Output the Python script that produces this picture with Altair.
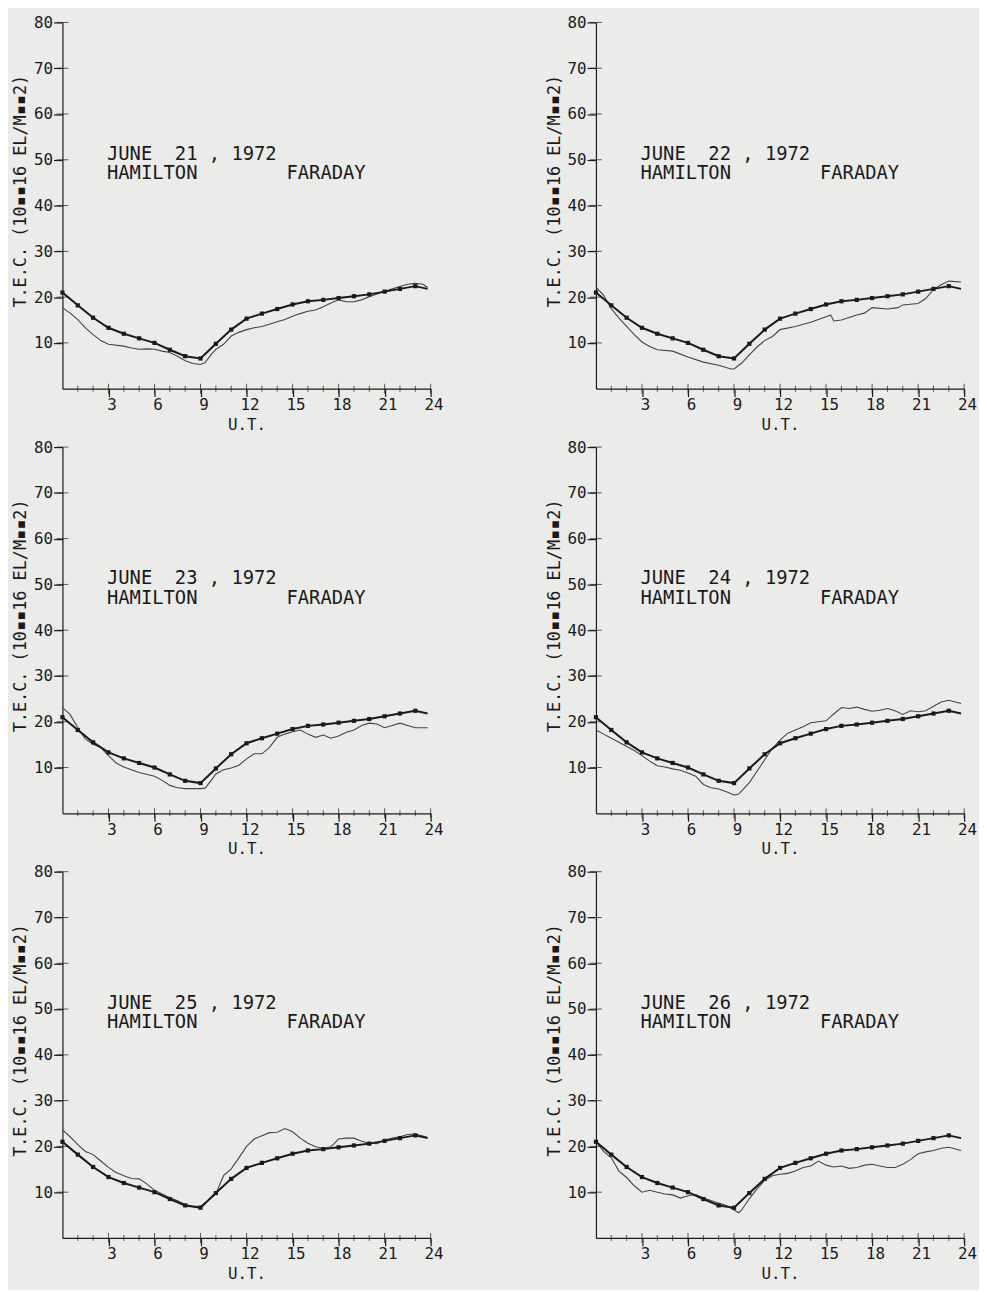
import altair as alt
import pandas as pd

# ---------------- data ----------------
DAYS = [21, 22, 23, 24, 25, 26]

# monthly mean curve (dotted line), same in every panel
MEAN_H = [0, 1, 2, 3, 4, 5, 6, 7, 8, 9, 10, 11, 12, 13, 14, 15, 16, 17, 18, 19, 20, 21, 22, 23, 23.8]
MEAN_V = [21.0, 18.2, 15.5, 13.3, 12.0, 11.0, 10.0, 8.5, 7.1, 6.6, 9.8, 12.9, 15.3, 16.4, 17.4,
          18.4, 19.1, 19.4, 19.8, 20.2, 20.6, 21.2, 21.8, 22.4, 21.8]
DOT_H = [0, 1, 2, 3, 4, 5, 6, 7, 8, 9, 10, 11, 12, 13, 14, 15, 16, 17, 18, 19, 20, 21, 22, 23]

P1_H = [0, 0.5, 1, 1.5, 2, 2.5, 3, 4, 4.5, 5, 5.5, 6, 6.5, 7, 7.5, 8, 8.5, 9, 9.3, 9.7, 10, 10.5, 11,
        11.5, 12, 12.5, 13, 14, 14.5, 15, 15.5, 16, 16.5, 17, 17.5, 18, 18.5, 19, 19.5, 20, 20.5, 21,
        21.5, 22, 22.5, 23, 23.5, 23.8]
P1_V = [17.7, 16.5, 15.1, 13.3, 11.8, 10.5, 9.7, 9.3, 8.9, 8.6, 8.7, 8.6, 8.2, 7.9, 7.1, 6.1, 5.5, 5.3,
        5.7, 7.5, 8.6, 9.7, 11.5, 12.3, 12.9, 13.3, 13.6, 14.6, 15.1, 15.8, 16.4, 16.9, 17.2, 17.9, 18.7,
        19.4, 19.0, 19.0, 19.4, 20.1, 20.7, 21.3, 21.8, 22.3, 22.8, 23.0, 22.8, 22.1]

P2_H = [0, 0.5, 1, 1.5, 2, 2.5, 3, 3.5, 4, 5, 6, 7, 8, 8.8, 9, 9.5, 10, 10.5, 11, 11.5, 12, 13, 14, 15,
        15.3, 15.5, 16, 17, 17.5, 18, 19, 19.7, 20, 21, 21.5, 22, 22.5, 23, 23.8]
P2_V = [22.2, 20.4, 17.5, 15.4, 13.6, 11.8, 10.2, 9.2, 8.5, 8.2, 6.9, 5.8, 5.1, 4.3, 4.3, 5.6, 7.4, 9.1,
        10.5, 11.4, 12.9, 13.6, 14.5, 15.7, 16.1, 14.8, 15.0, 16.1, 16.5, 17.7, 17.4, 17.7, 18.3, 18.6,
        19.7, 21.7, 22.7, 23.5, 23.3]

P3_H = [0, 0.5, 1, 1.5, 2, 2.5, 3, 3.5, 4, 5, 6, 6.5, 7, 7.5, 8, 9, 9.3, 9.7, 10, 10.5, 11, 11.5, 12,
        12.5, 13, 13.5, 14, 14.5, 15, 15.5, 16, 16.5, 17, 17.5, 18, 18.5, 19, 19.5, 20, 20.5, 21, 21.5,
        22, 22.5, 23, 23.8]
P3_V = [23.1, 21.6, 18.7, 16.2, 15.1, 14.4, 12.6, 11.0, 10.1, 8.9, 8.1, 7.2, 6.1, 5.6, 5.4, 5.4, 5.5,
        7.2, 8.6, 9.5, 9.9, 10.5, 11.9, 13.0, 13.0, 14.4, 16.6, 17.3, 17.8, 18.2, 17.3, 16.6, 17.1, 16.4,
        16.9, 17.7, 18.2, 19.2, 19.7, 19.5, 18.7, 19.2, 19.7, 19.2, 18.7, 18.7]

P4_H = [0, 0.5, 1, 1.5, 2, 2.5, 3, 3.5, 4, 4.5, 5, 5.5, 6, 6.5, 7, 7.5, 8, 8.5, 9, 9.3, 9.5, 10, 10.5,
        11, 11.5, 12, 12.5, 13, 13.5, 14, 14.5, 15, 15.5, 16, 16.5, 17, 17.5, 18, 18.5, 19, 19.5, 20,
        20.5, 21, 21.5, 22, 22.5, 23, 23.8]
P4_V = [18.2, 17.3, 16.4, 15.5, 14.6, 13.7, 12.6, 11.4, 10.4, 10.1, 9.7, 9.4, 8.8, 8.1, 6.3, 5.6, 5.3,
        4.7, 4.0, 4.2, 4.9, 6.7, 9.2, 11.7, 14.2, 16.0, 17.5, 18.2, 18.9, 19.8, 20.0, 20.2, 21.7, 23.1,
        22.9, 23.2, 22.7, 22.3, 22.5, 22.9, 22.4, 21.6, 22.4, 22.2, 22.4, 23.4, 24.3, 24.7, 24.0]

P5_H = [0, 0.5, 1, 1.5, 2, 2.5, 3, 3.5, 4, 4.5, 5, 5.5, 6, 6.5, 7, 7.5, 8, 8.5, 9, 9.5, 10, 10.5, 11,
        11.5, 12, 12.5, 13, 13.5, 14, 14.5, 15, 15.5, 16, 16.5, 17, 17.5, 18, 18.5, 19, 19.5, 20, 20.5,
        21, 21.5, 22, 22.5, 23, 23.8]
P5_V = [23.6, 22.1, 20.4, 18.9, 18.2, 16.8, 15.4, 14.3, 13.6, 13.0, 12.9, 11.8, 10.4, 9.6, 8.8, 8.1,
        7.3, 6.9, 6.9, 8.2, 9.6, 13.6, 15.1, 17.5, 20.0, 21.6, 22.3, 23.0, 23.1, 23.9, 23.2, 21.8, 20.7,
        19.9, 19.6, 19.9, 21.6, 21.8, 21.8, 21.1, 20.7, 20.6, 21.4, 21.8, 22.1, 22.6, 22.7, 22.0]

P6_H = [0, 0.5, 1, 1.5, 2, 2.5, 3, 3.5, 4, 4.5, 5, 5.5, 6, 6.5, 7, 7.5, 8, 8.5, 9, 9.3, 9.5, 10, 10.5,
        11, 11.5, 12, 12.5, 13, 13.5, 14, 14.5, 15, 15.5, 16, 16.5, 17, 17.5, 18, 18.5, 19, 19.5, 20,
        20.5, 21, 21.5, 22, 22.5, 23, 23.8]
P6_V = [21.1, 18.9, 17.5, 14.6, 13.2, 11.4, 10.0, 10.4, 10.0, 9.6, 9.4, 8.7, 9.2, 9.5, 8.7, 8.2, 7.6,
        7.1, 6.1, 5.5, 6.1, 8.6, 10.7, 12.6, 13.6, 13.9, 14.1, 14.6, 15.4, 15.7, 16.8, 15.9, 15.5, 15.7,
        15.2, 15.4, 15.9, 16.1, 15.7, 15.4, 15.4, 16.1, 17.1, 18.4, 18.8, 19.1, 19.6, 19.8, 19.1]

SERIES = [(P1_H, P1_V), (P2_H, P2_V), (P3_H, P3_V), (P4_H, P4_V), (P5_H, P5_V), (P6_H, P6_V)]

X_LABELS = [3, 6, 9, 12, 15, 18, 21, 24]
X_MINOR = [1, 2, 4, 5, 7, 8, 10, 11, 13, 14, 16, 17, 19, 20, 22, 23]
Y_LABELS = [10, 20, 30, 40, 50, 60, 70, 80]

SQ = "\u25aa"
Y_TITLE = f"T.E.C. (10{SQ}{SQ}16 EL/M{SQ}{SQ}2)"
X_TITLE = "U.T."
NB = "\u00a0"

# ---------------- style ----------------
W, H = 372, 370
MONO = "DejaVu Sans Mono"
INK = "#1a1a1a"
BG = "#ebebea"


def panel(day, hours, vals):
    xs = alt.X("h:Q", scale=alt.Scale(domain=[0, 24], nice=False),
               axis=alt.Axis(values=X_LABELS, title=X_TITLE, grid=False, tickSize=8,
                             labelPadding=0, labelFlush=False, labelOffset=3,
                             titleY=36, titleBaseline="middle"))
    ys = alt.Y("v:Q", scale=alt.Scale(domain=[0, 80], nice=False),
               axis=alt.Axis(values=Y_LABELS, title=Y_TITLE, grid=False, tickSize=9,
                             labelPadding=1, labelFlush=False,
                             titleX=-42, titleY=170, titleAngle=270,
                             titleBaseline="middle", titleAlign="center"))

    daily = pd.DataFrame({"h": hours, "v": vals})
    mean = pd.DataFrame({"h": MEAN_H, "v": MEAN_V})
    dots = mean[mean["h"].isin(DOT_H)]

    day_line = alt.Chart(daily).mark_line(color="#444444", strokeWidth=1.1).encode(x=xs, y=ys)
    mean_line = alt.Chart(mean).mark_line(color=INK, strokeWidth=2).encode(x=xs, y=ys)
    mean_dots = alt.Chart(dots).mark_square(color=INK, size=18, opacity=1).encode(x=xs, y=ys)

    minor = alt.Chart(pd.DataFrame({"h": X_MINOR})).mark_tick(
        color=INK, size=6, thickness=1).encode(x=alt.X("h:Q"), y=alt.value(H))
    major = alt.Chart(pd.DataFrame({"h": X_LABELS})).mark_tick(
        color=INK, size=10, thickness=1).encode(x=alt.X("h:Q"), y=alt.value(H))
    yin = alt.Chart(pd.DataFrame({"v": Y_LABELS})).mark_tick(
        color=INK, size=12, thickness=1).encode(y=alt.Y("v:Q"), x=alt.value(0))

    labels = pd.DataFrame({
        "h": [2.9, 2.9, 14.6],
        "v": [51.3, 47.1, 47.1],
        "t": [f"JUNE{NB}{NB}{day}{NB},{NB}1972", "HAMILTON", "FARADAY"],
    })
    text = alt.Chart(labels).mark_text(align="left", baseline="middle", font=MONO,
                                       fontSize=19, color=INK).encode(
        x=alt.X("h:Q"), y=alt.Y("v:Q"), text="t:N")

    return alt.layer(day_line, mean_line, mean_dots, minor, major, yin, text).properties(
        width=W, height=H)


panels = [panel(d, h, v) for d, (h, v) in zip(DAYS, SERIES)]

chart = alt.concat(*panels, columns=2, spacing=alt.RowColnumber(row=59, column=167),
                   bounds="flush").properties(
    background=BG,
    padding={"left": 4, "top": 0, "right": 2, "bottom": 2},
).configure_view(strokeWidth=0).configure_axis(
    domainColor=INK, domainWidth=1.2, tickColor=INK, tickWidth=1.2,
    labelFont=MONO, labelFontSize=16, labelColor=INK,
    titleFont=MONO, titleFontSize=17, titleFontWeight="normal", titleColor=INK,
).configure_axisX(titleFontSize=16)

chart.save("out.html", embed_options={"renderer": "svg", "actions": False})
